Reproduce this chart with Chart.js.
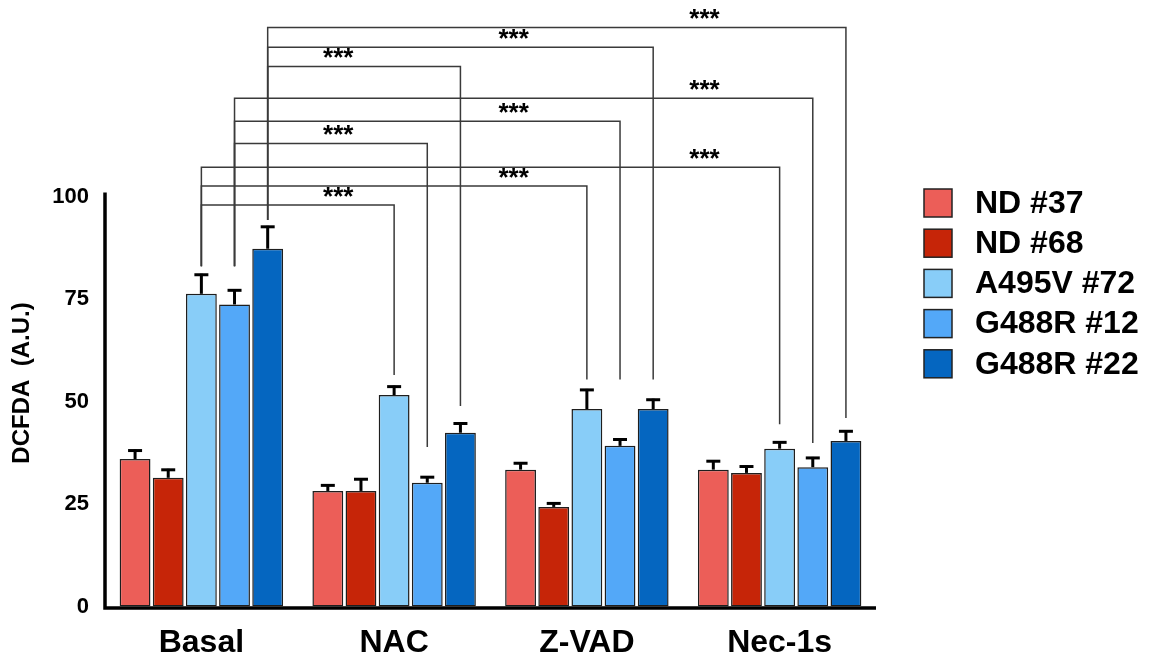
<!DOCTYPE html>
<html>
<head>
<meta charset="utf-8">
<script src="https://cdn.jsdelivr.net/npm/chart.js@4.4.1/dist/chart.umd.min.js"></script>
<style>
  html, body { margin: 0; padding: 0; background: #fff; }
  #wrap { width: 1163px; height: 662px; }
</style>
</head>
<body>
<div id="wrap"><canvas id="dcfdaChart" width="1163" height="662"></canvas></div>
<script>
// Data
const categories = ['Basal', 'NAC', 'Z-VAD', 'Nec-1s'];
const seriesNames = ['ND #37', 'ND #68', 'A495V #72', 'G488R #12', 'G488R #22'];
const seriesColors = ['#EC5E58', '#C62508', '#88CDF8', '#53A8F8', '#0566C0'];

const nd37 = [36.0, 28.2, 33.4, 33.4];
const nd68 = [31.4, 28.2, 24.3, 32.6];
const a495v72 = [76.3, 51.6, 48.2, 38.5];
const g488r12 = [73.7, 30.2, 39.2, 34.0];
const g488r22 = [87.3, 42.4, 48.2, 40.4];

// upper error (SEM)
const nd37Err = [2.3, 1.6, 1.8, 2.3];
const nd68Err = [2.2, 3.1, 1.1, 1.8];
const a495v72Err = [4.9, 2.3, 4.9, 1.8];
const g488r12Err = [3.7, 1.6, 1.8, 2.5];
const g488r22Err = [5.6, 2.5, 2.5, 2.6];

const yTicks = [0, 25, 50, 75, 100];

// significance brackets: from Basal bar of a series to the same series in another group
const bracketSeries = [2, 2, 2, 3, 3, 3, 4, 4, 4];
const bracketTarget = [1, 2, 3, 1, 2, 3, 1, 2, 3];
const bracketLevel = [98.0, 102.6, 107.2, 113.0, 118.4, 124.0, 131.8, 136.5, 141.3];
const bracketLeftEnd = [83, 83, 83, 83, 83, 83, 94.3, 94.3, 94.3];
const bracketRightEnd = [56.5, 55.4, 44.5, 38.9, 55.4, 39.9, 48.9, 55.4, 46.0];
const starPos = [0.71, 1.62, 2.61, 0.71, 1.62, 2.61, 0.71, 1.62, 2.61];

const allValues = [nd37, nd68, a495v72, g488r12, g488r22];
const allErrors = [nd37Err, nd68Err, a495v72Err, g488r12Err, g488r22Err];

const FONT = '"Liberation Sans", Arial, Helvetica, sans-serif';
Chart.defaults.font.family = FONT;
Chart.defaults.color = '#000';

const extras = {
  id: 'extras',
  afterDatasetsDraw(chart) {
    const ctx = chart.ctx;
    const y = chart.scales.y;
    const x = chart.scales.x;
    const area = chart.chartArea;
    ctx.save();

    // error bars
    ctx.strokeStyle = '#000';
    allValues.forEach((vals, d) => {
      const meta = chart.getDatasetMeta(d);
      meta.data.forEach((bar, i) => {
        const top = y.getPixelForValue(vals[i]);
        const tip = y.getPixelForValue(vals[i] + allErrors[d][i]);
        ctx.lineWidth = 3;
        ctx.beginPath();
        ctx.moveTo(bar.x, top);
        ctx.lineTo(bar.x, tip);
        ctx.stroke();
        ctx.beginPath();
        ctx.moveTo(bar.x - 7, tip + 1);
        ctx.lineTo(bar.x + 7, tip + 1);
        ctx.stroke();
      });
    });

    // brackets
    ctx.strokeStyle = '#3a3a3a';
    ctx.lineWidth = 1.5;
    ctx.fillStyle = '#000';
    ctx.font = 'bold 26px ' + FONT;
    ctx.textAlign = 'center';
    ctx.textBaseline = 'alphabetic';
    bracketSeries.forEach((s, k) => {
      const meta = chart.getDatasetMeta(s);
      const x1 = meta.data[0].x;
      const x2 = meta.data[bracketTarget[k]].x;
      const yl = y.getPixelForValue(bracketLevel[k]);
      ctx.beginPath();
      ctx.moveTo(x1, y.getPixelForValue(bracketLeftEnd[k]));
      ctx.lineTo(x1, yl);
      ctx.lineTo(x2, yl);
      ctx.lineTo(x2, y.getPixelForValue(bracketRightEnd[k]));
      ctx.stroke();
      ctx.fillText('***', x.getPixelForValue(starPos[k]), yl);
    });

    // axes
    ctx.strokeStyle = '#000';
    ctx.lineWidth = 3.5;
    ctx.beginPath();
    ctx.moveTo(area.left, y.getPixelForValue(101));
    ctx.lineTo(area.left, area.bottom + 1.5);
    ctx.lineTo(area.right, area.bottom + 1.5);
    ctx.stroke();

    // y title
    ctx.save();
    ctx.translate(22, 383);
    ctx.rotate(-Math.PI / 2);
    ctx.font = 'bold 24px ' + FONT;
    ctx.textAlign = 'center';
    ctx.textBaseline = 'middle';
    ctx.fillText('DCFDA  (A.U.)', 0, 0);
    ctx.restore();

    // legend
    ctx.font = 'bold 32px ' + FONT;
    ctx.textAlign = 'left';
    ctx.textBaseline = 'middle';
    seriesNames.forEach((name, i) => {
      const cy = 203 + i * 40.2;
      ctx.fillStyle = seriesColors[i];
      ctx.fillRect(924, cy - 14, 28, 28);
      ctx.strokeStyle = '#222';
      ctx.lineWidth = 1.5;
      ctx.strokeRect(924, cy - 14, 28, 28);
      ctx.fillStyle = '#000';
      ctx.fillText(name, 975, cy + 1);
    });

    ctx.restore();
  }
};

const data = {
  labels: categories,
  datasets: allValues.map((vals, i) => ({
    label: seriesNames[i],
    data: vals,
    backgroundColor: seriesColors[i],
    borderColor: '#1e1e1e',
    borderWidth: 1.5,
    borderSkipped: false,
    categoryPercentage: 0.86,
    barPercentage: 0.93
  }))
};

const config = {
  type: 'bar',
  data: data,
  options: {
    responsive: false,
    animation: false,
    layout: { padding: { left: 0, right: 287, top: 0, bottom: 0 } },
    plugins: {
      legend: { display: false },
      tooltip: { enabled: false }
    },
    scales: {
      x: {
        grid: { display: false, drawTicks: false },
        border: { display: false },
        ticks: { font: { size: 32, weight: 'bold' }, padding: 17, color: '#000' },
        afterFit: (scale) => {
          scale.height = 55.5;
          scale.paddingLeft = 0;
          scale.paddingRight = 0;
        }
      },
      y: {
        min: 0,
        max: 148,
        grid: { display: false, drawTicks: false },
        border: { display: false },
        afterBuildTicks: (scale) => { scale.ticks = yTicks.map(v => ({ value: v })); },
        ticks: { font: { size: 22, weight: 'bold' }, padding: 16, color: '#000' },
        afterFit: (scale) => {
          scale.width = 105;
          scale.paddingTop = 0;
          scale.paddingBottom = 0;
        }
      }
    }
  },
  plugins: [extras]
};

window.onload = function () {
  const ctx = document.getElementById('dcfdaChart').getContext('2d');
  new Chart(ctx, config);
};
</script>
</body>
</html>
